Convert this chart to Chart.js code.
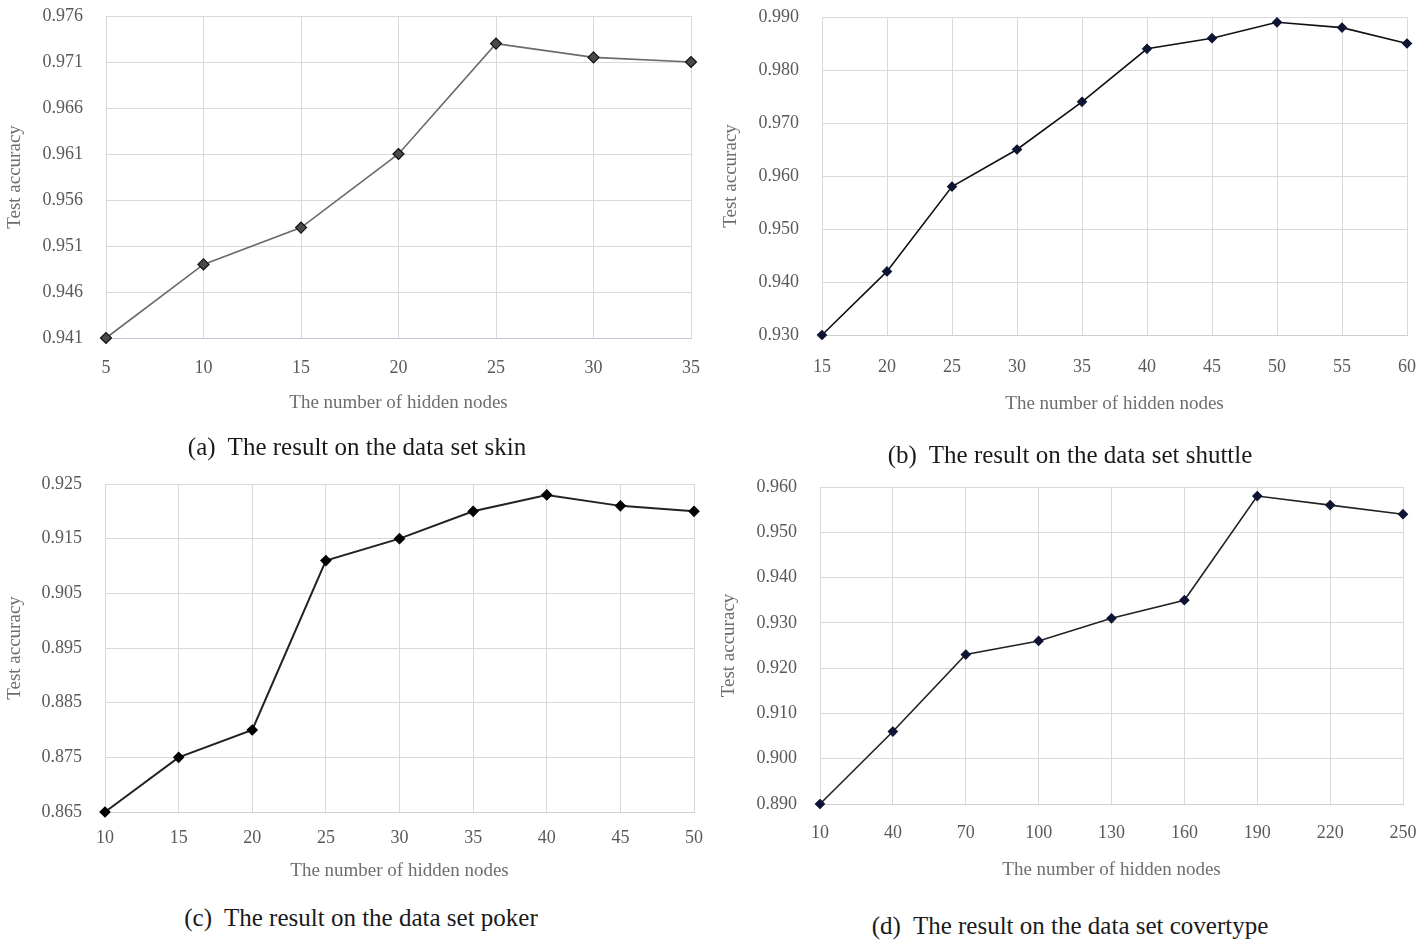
<!DOCTYPE html>
<html>
<head>
<meta charset="utf-8">
<script src="https://cdn.jsdelivr.net/npm/chart.js@4.4.1/dist/chart.umd.min.js"></script>
<style>
  html, body { margin: 0; padding: 0; background: #fff; overflow: hidden; }
  body { width: 1416px; height: 942px; position: relative; }
  .panel { position: absolute; }
  .caption {
    position: absolute;
    transform: translate(-50%, -50%);
    font-family: "Liberation Serif", serif;
    font-size: 25px;
    color: #1a1a1a;
    white-space: pre;
  }
</style>
</head>
<body>
<div class="panel" id="boxA"><canvas id="chartA"></canvas></div>
<div class="panel" id="boxB"><canvas id="chartB"></canvas></div>
<div class="panel" id="boxC"><canvas id="chartC"></canvas></div>
<div class="panel" id="boxD"><canvas id="chartD"></canvas></div>
<div class="caption" style="left:357px; top:447px;">(a)  The result on the data set skin</div>
<div class="caption" style="left:1070px; top:455px;">(b)  The result on the data set shuttle</div>
<div class="caption" style="left:361px; top:918px;">(c)  The result on the data set poker</div>
<div class="caption" style="left:1070px; top:926px;">(d)  The result on the data set covertype</div>

<script>
// (a) skin
const nodesSkin = ["5", "10", "15", "20", "25", "30", "35"];
const accSkin = [0.941, 0.949, 0.953, 0.961, 0.973, 0.9715, 0.971];
const ticksSkin = [0.941, 0.946, 0.951, 0.956, 0.961, 0.966, 0.971, 0.976];

// (b) shuttle
const nodesShuttle = ["15", "20", "25", "30", "35", "40", "45", "50", "55", "60"];
const accShuttle = [0.930, 0.942, 0.958, 0.965, 0.974, 0.984, 0.986, 0.989, 0.988, 0.985];
const ticksShuttle = [0.930, 0.940, 0.950, 0.960, 0.970, 0.980, 0.990];

// (c) poker
const nodesPoker = ["10", "15", "20", "25", "30", "35", "40", "45", "50"];
const accPoker = [0.865, 0.875, 0.880, 0.911, 0.915, 0.920, 0.923, 0.921, 0.920];
const ticksPoker = [0.865, 0.875, 0.885, 0.895, 0.905, 0.915, 0.925];

// (d) covertype
const nodesCover = ["10", "40", "70", "100", "130", "160", "190", "220", "250"];
const accCover = [0.890, 0.906, 0.923, 0.926, 0.931, 0.935, 0.958, 0.956, 0.954];
const ticksCover = [0.890, 0.900, 0.910, 0.920, 0.930, 0.940, 0.950, 0.960];

const yTitle = "Test accuracy";
const xTitle = "The number of hidden nodes";

Chart.defaults.font.family = '"Liberation Serif", "Times New Roman", serif';
Chart.defaults.animation = false;

const makeChart = (id, boxId, labels, values, yTicks, look) => {
  const box = document.getElementById(boxId);
  box.style.left = look.left + "px";
  box.style.top = look.top + "px";
  box.style.width = look.width + "px";
  box.style.height = look.height + "px";

  return new Chart(document.getElementById(id), {
    type: "line",
    data: {
      labels: labels,
      datasets: [
        {
          data: values,
          borderColor: look.line,
          borderWidth: look.lineWidth,
          pointStyle: "rectRot",
          pointRadius: look.radius,
          pointBackgroundColor: look.fill,
          pointBorderColor: look.edge,
          pointBorderWidth: 1.2,
          tension: 0,
          clip: false,
        },
      ],
    },
    options: {
      responsive: true,
      maintainAspectRatio: false,
      layout: {
        padding: { top: look.padTop, right: look.padRight, left: 0, bottom: 0 },
      },
      plugins: { legend: { display: false }, tooltip: { enabled: false } },
      scales: {
        x: {
          type: "category",
          offset: false,
          // tick length used as the label gap, tick marks themselves hidden
          grid: { color: "#d9d9d9", tickLength: look.xTickPad, tickColor: "rgba(0,0,0,0)" },
          border: { color: look.xBorder },
          ticks: {
            color: "#595959",
            font: { size: 18 },
            padding: 0,
            maxRotation: 0,
            autoSkip: false,
          },
          title: {
            display: true,
            text: xTitle,
            color: "#6e6e6e",
            font: { size: 19 },
            padding: 0,
          },
          afterFit: (scale) => {
            scale.height = look.xAxisHeight;
          },
        },
        y: {
          min: yTicks[0],
          max: yTicks[yTicks.length - 1],
          grid: { color: "#d9d9d9", tickLength: 23, tickColor: "rgba(0,0,0,0)" },
          border: { color: "#d9d9d9" },
          afterBuildTicks: (scale) => {
            scale.ticks = yTicks.map((v) => ({ value: v }));
          },
          ticks: {
            color: "#595959",
            font: { size: 18 },
            padding: 0,
            callback: (v) => v.toFixed(3),
          },
          title: {
            display: true,
            text: yTitle,
            color: "#6e6e6e",
            font: { size: 19 },
            padding: { top: look.yTitlePad, bottom: 0 },
          },
          afterFit: (scale) => {
            scale.width = look.yAxisWidth;
          },
        },
      },
    },
  });
};

makeChart("chartA", "boxA", nodesSkin, accSkin, ticksSkin, {
  left: 0, top: 0, width: 710, height: 414,
  padTop: 16, padRight: 19, yAxisWidth: 106, xAxisHeight: 76,
  xTickPad: 19, yTitlePad: 4,
  line: "#6a6a6a", lineWidth: 1.6, radius: 5.5, fill: "#4a4a4a", edge: "#111111",
  xBorder: "#c4c4dc",
});

makeChart("chartB", "boxB", nodesShuttle, accShuttle, ticksShuttle, {
  left: 706, top: 0, width: 720, height: 415,
  padTop: 17, padRight: 19, yAxisWidth: 116, xAxisHeight: 80,
  xTickPad: 21, yTitlePad: 14,
  line: "#111111", lineWidth: 1.6, radius: 4.5, fill: "#0e1433", edge: "#0e1433",
  xBorder: "#d0d0d0",
});

makeChart("chartC", "boxC", nodesPoker, accPoker, ticksPoker, {
  left: 0, top: 460, width: 710, height: 422,
  padTop: 24, padRight: 16, yAxisWidth: 105, xAxisHeight: 70,
  xTickPad: 15, yTitlePad: 4,
  line: "#222222", lineWidth: 2, radius: 5, fill: "#000000", edge: "#000000",
  xBorder: "#d0d0d0",
});

makeChart("chartD", "boxD", nodesCover, accCover, ticksCover, {
  left: 706, top: 460, width: 720, height: 421,
  padTop: 27, padRight: 23, yAxisWidth: 114, xAxisHeight: 77,
  xTickPad: 18, yTitlePad: 12,
  line: "#222222", lineWidth: 1.6, radius: 4.5, fill: "#0e1433", edge: "#0e1433",
  xBorder: "#d0d0d0",
});
</script>
</body>
</html>
